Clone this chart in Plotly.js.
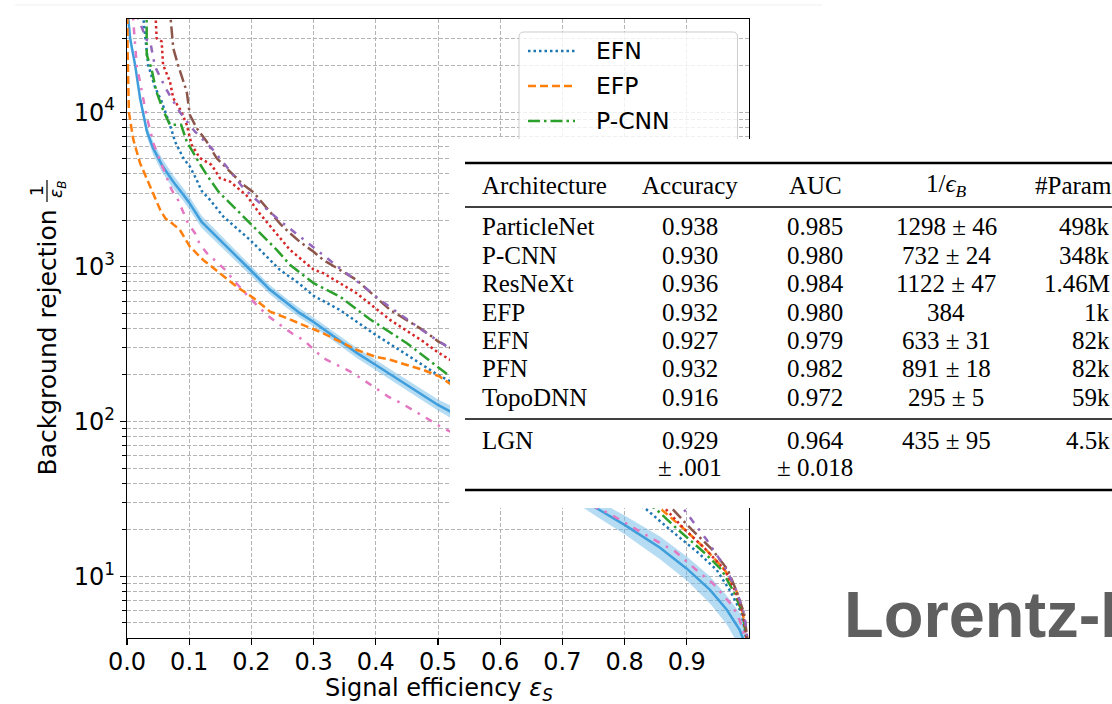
<!DOCTYPE html>
<html><head><meta charset="utf-8">
<script src="https://cdn.plot.ly/plotly-3.0.1.min.js"></script>
<style>html,body{margin:0;padding:0;background:#fff;overflow:hidden}#chart{width:1112px;height:704px}</style>
</head><body><div id="chart"></div>
<script>
// ---------------- data ----------------
const LGN_x  = [0.001,0.005,0.013,0.021,0.032,0.042,0.056,0.074,0.09,0.1,0.12,0.15,0.176,0.2,0.23,0.257,0.278,0.3,0.32,0.35,0.37,0.4,0.45,0.5,0.52,0.55,0.6,0.65,0.7,0.755,0.8,0.857,0.9,0.937,0.964,0.985,0.992,0.997];
const LGN_y  = [45000,30000,20200,12300,7500,5850,4560,3560,2950,2600,1950,1490,1167,940,710,582,502,440,385,315,277,232,172,128,116,95,70,52,38,27.5,21.5,15.3,11.2,8.2,6.1,4.5,3.8,3.2];
const LGN_hi = [48000,32000,21500,13300,8200,6450,5050,3930,3250,2860,2140,1620,1260,1010,760,622,537,470,412,338,298,250,186,139,127,104,77,58,42.5,31,24.7,18.1,13.4,10,7.5,5.8,5.0,4.1];
const LGN_lo = [42000,28000,19000,11400,6900,5300,4100,3220,2680,2360,1780,1370,1080,870,663,542,468,412,360,293,257,215,159,118,106,87,63,46.5,34,24.3,18.7,12.9,9.4,6.7,4.9,3.5,2.9,2.4];

const EFN_x = [0.024,0.0289,0.034,0.045,0.0557,0.069,0.0772,0.0905,0.101,0.112,0.12,0.1334,0.155,0.176,0.1977,0.219,0.246,0.275,0.3,0.342,0.396,0.45,0.5,0.52,0.55,0.6,0.65,0.7,0.75,0.8,0.833,0.873,0.92,0.948,0.97,0.988,0.998];
const EFN_y = [50000,31600,20200,14500,11700,8280,6460,5050,4450,3650,3100,2710,2110,1780,1496,1227,955,790,650,527,372,270,200,182,150,110,80,58,43,33,27.5,20,14,11,8,5.77,3.5];

const EFP_x = [0.0005,0.001,0.003,0.0102,0.021,0.037,0.0535,0.062,0.069,0.085,0.101,0.1225,0.1495,0.176,0.2035,0.23,0.2567,0.278,0.3,0.3156,0.35,0.369,0.4,0.423,0.45,0.476,0.503,0.52,0.55,0.6,0.65,0.7,0.75,0.8,0.857,0.897,0.93,0.961,0.98,0.99,0.998];
const EFP_y = [50000,25000,10000,6640,4680,3300,2330,2050,1963,1735,1353,1108,910,746,628,514,466,432,395,372,315,291,262,251,232,216,195,175,140,106,82,64,50,39,27.5,20,15,11,8,5.8,3.5];

const PCNN_x = [0.0315,0.0317,0.0392,0.0472,0.058,0.069,0.087,0.096,0.1147,0.128,0.1468,0.1656,0.187,0.2138,0.2407,0.262,0.3,0.342,0.39,0.45,0.503,0.52,0.55,0.6,0.65,0.7,0.75,0.8,0.849,0.886,0.93,0.956,0.975,0.99,0.998];
const PCNN_y = [50000,23400,19200,13600,10300,8280,8280,6460,4800,3935,3070,2580,2100,1650,1288,1030,785,643,460,321,218,195,165,120,88,64,47,35,27.5,20,14,11,8,5.77,3.5];

const PFN_x = [0.045,0.0477,0.0557,0.058,0.069,0.0744,0.0874,0.096,0.104,0.117,0.136,0.1495,0.1656,0.192,0.2138,0.2513,0.262,0.3,0.3156,0.369,0.423,0.476,0.5,0.52,0.55,0.6,0.65,0.7,0.75,0.8,0.865,0.897,0.93,0.961,0.978,0.99,0.998];
const PFN_y = [50000,30000,28600,20200,15800,12300,10100,8280,6150,5050,4560,3740,3560,2900,2200,1450,1288,960,910,676,454,330,280,250,210,150,108,78,56,40,27.5,20,15,11,8,5.77,3.5];

const RESNEXT_x = [0.068,0.0744,0.082,0.0874,0.096,0.101,0.112,0.128,0.144,0.1656,0.187,0.2035,0.246,0.262,0.278,0.3,0.3156,0.369,0.423,0.476,0.5,0.52,0.55,0.6,0.65,0.7,0.75,0.8,0.876,0.908,0.94,0.966,0.98,0.992,0.999];
const RESNEXT_y = [50000,25900,20200,17400,13600,9620,7880,6460,5050,4130,3390,3030,1900,1650,1450,1250,1108,824,527,390,330,300,250,180,128,90,63,44,27.5,20,15,11,8,5.77,3.5];

const PNET_x = [0.009,0.0316,0.037,0.045,0.0637,0.085,0.109,0.136,0.16,0.187,0.2138,0.245,0.278,0.3045,0.342,0.374,0.4067,0.444,0.4818,0.514,0.55,0.6,0.65,0.7,0.75,0.8,0.85,0.894,0.932,0.964,0.98,0.992,0.999];
const PNET_y = [50000,29300,29000,19700,13900,10000,7500,5850,4450,3230,2580,2000,1570,1288,980,785,612,478,372,306,250,185,135,98,70,50,35,27.5,17.2,11,8,5.77,3.5];

const TOPO_x = [0.008,0.0156,0.0316,0.0423,0.0611,0.0717,0.082,0.0905,0.098,0.1093,0.117,0.1307,0.144,0.158,0.171,0.195,0.2245,0.246,0.265,0.2835,0.3,0.3156,0.337,0.3585,0.38,0.399,0.42,0.4416,0.46,0.4818,0.5056,0.52,0.55,0.6,0.65,0.7,0.774,0.819,0.857,0.881,0.921,0.942,0.974,0.985,0.995];
const TOPO_y = [50000,20200,9400,6300,4040,3150,2710,2250,1915,1650,1400,1196,1081,955,824,643,490,422,372,337,291,257,233,211,186,165,145,131,119,105,92,86,72,55,44,35,25.6,20,16.4,14.5,10.5,9,6.4,5.2,3.8];

const xTickVals = [0,0.1,0.2,0.3,0.4,0.5,0.6,0.7,0.8,0.9];
const xTickText = ['0.0','0.1','0.2','0.3','0.4','0.5','0.6','0.7','0.8','0.9'];
const yTickVals = [10,100,1000,10000];
const yTickText = ['10<sup>1</sup>','10<sup>2</sup>','10<sup>3</sup>','10<sup>4</sup>'];
const yMinorVals = [5,6,7,8,9,20,30,40,50,60,70,80,90,200,300,400,500,600,700,800,900,2000,3000,4000,5000,6000,7000,8000,9000,20000,30000];

const legendNames = ['EFN','EFP','P-CNN'];

const tableHeader = ['Architecture','Accuracy','AUC','1/<i>ϵ</i><sub><i>B</i></sub>','#Params'];
const tableArch   = ['ParticleNet','P-CNN','ResNeXt','EFP','EFN','PFN','TopoDNN'];
const tableAcc    = ['0.938','0.930','0.936','0.932','0.927','0.932','0.916'];
const tableAUC    = ['0.985','0.980','0.984','0.980','0.979','0.982','0.972'];
const tableRej    = ['1298 ± 46','732 ± 24','1122 ± 47','384','633 ± 31','891 ± 18','295 ± 5'];
const tableParams = ['498k','348k','1.46M','1k','82k','82k','59k'];
const lgnRow      = ['LGN','0.929','0.964','435 ± 95','4.5k'];
const lgnErr      = ['± .001','± 0.018'];

// ---------------- geometry helpers (pixel -> paper) ----------------
const PL=127, PR=749, PT=19, PB=638;
const fx = p => (p-PL)/(PR-PL);
const fy = p => (PB-p)/(PB-PT);

// ---------------- traces ----------------
const DOT='2.5px,3px', DASH='8px,4px', DASHDOT='12px,4px,2.5px,4px', LOOSE='7px,7px,2.5px,7px';
const LW=2.5;
function curve(name,x,y,color,dash,width){
  return {type:'scatter',mode:'lines',name:name,x:x,y:y,line:{color:color,dash:dash,width:width},showlegend:false,hoverinfo:'skip'};
}
const traces = [
  {type:'scatter',mode:'lines',x:LGN_x,y:LGN_lo,line:{width:0,color:'rgba(0,0,0,0)'},showlegend:false,hoverinfo:'skip'},
  {type:'scatter',mode:'lines',x:LGN_x,y:LGN_hi,line:{width:0,color:'rgba(0,0,0,0)'},fill:'tonexty',fillcolor:'rgba(110,185,232,0.5)',showlegend:false,hoverinfo:'skip'},
  curve('LGN',LGN_x,LGN_y,'#3f9edb','solid',LW),
  curve('EFN',EFN_x,EFN_y,'#1f77b4',DOT,LW),
  curve('EFP',EFP_x,EFP_y,'#ff7f0e',DASH,LW),
  curve('P-CNN',PCNN_x,PCNN_y,'#2ca02c',DASHDOT,LW),
  curve('PFN',PFN_x,PFN_y,'#d62728',DOT,LW),
  curve('ResNeXt',RESNEXT_x,RESNEXT_y,'#8c564b',DASHDOT,LW),
  curve('ParticleNet',PNET_x,PNET_y,'#9467bd',LOOSE,LW),
  curve('TopoDNN',TOPO_x,TOPO_y,'#e377c2',LOOSE,LW)
];

// ---------------- shapes ----------------
const shapes = [];
shapes.push({type:'line',xref:'paper',yref:'paper',x0:fx(15),x1:fx(822),y0:fy(5),y1:fy(5),line:{color:'#efefef',width:1},layer:'above'});
// legend frame (rounded), continues under the table
(function(){
  const l=519,r=737.5,t=32,b=420,rr=5;
  const P=(x,y)=>fx(x).toFixed(5)+','+fy(y).toFixed(5);
  const path='M'+P(l+rr,t)+' L'+P(r-rr,t)+' Q'+P(r,t)+' '+P(r,t+rr)+' L'+P(r,b)+' L'+P(l,b)+' L'+P(l,t+rr)+' Q'+P(l,t)+' '+P(l+rr,t)+' Z';
  shapes.push({type:'path',xref:'paper',yref:'paper',path:path,fillcolor:'rgba(255,255,255,0.8)',line:{color:'#cccccc',width:1},layer:'above'});
})();
const legendStyles = [['#1f77b4',DOT],['#ff7f0e',DASH],['#2ca02c',DASHDOT]];
const legendY = [51,86,121];
legendStyles.forEach((s,i)=>{
  shapes.push({type:'line',xref:'paper',yref:'paper',x0:fx(528),x1:fx(575),y0:fy(legendY[i]),y1:fy(legendY[i]),line:{color:s[0],dash:s[1],width:LW},layer:'above'});
});
// table panel
shapes.push({type:'rect',xref:'paper',yref:'paper',x0:fx(450),x1:fx(1113),y0:fy(139),y1:fy(508),fillcolor:'#ffffff',line:{width:0},layer:'above'});
[[163,2.4],[207,1.3],[419,1.3],[490,2.4]].forEach(r=>{
  shapes.push({type:'line',xref:'paper',yref:'paper',x0:fx(465),x1:fx(1113),y0:fy(r[0]),y1:fy(r[0]),line:{color:'#000',width:r[1]},layer:'above'});
});
// fraction bar of the y label
shapes.push({type:'line',xref:'paper',yref:'paper',x0:fx(47),x1:fx(47),y0:fy(180),y1:fy(202),line:{color:'#000',width:1.2},layer:'above'});

// ---------------- annotations ----------------
const SANS='DejaVu Sans', SERIF='Liberation Serif, Times New Roman, serif';
function txt(text,xp,yp,opt){
  return Object.assign({xref:'paper',yref:'paper',x:fx(xp),y:fy(yp),text:text,showarrow:false,xanchor:'center',yanchor:'middle',font:{family:SANS,size:24,color:'#000'}},opt||{});
}
const ann = [];
ann.push(txt('Signal efficiency <i>ε</i><sub><i>S</i></sub>',439,689,{font:{family:SANS,size:24,color:'#000'}}));
ann.push(txt('Background rejection',47,342.5,{textangle:-90,font:{family:SANS,size:25,color:'#000'}}));
ann.push(txt('1',37,191,{textangle:-90,font:{family:SANS,size:17,color:'#000'}}));
ann.push(txt('<i>ε</i><sub><i>B</i></sub>',57,190,{textangle:-90,font:{family:SANS,size:17,color:'#000'}}));
legendNames.forEach((n,i)=>ann.push(txt(n,594,legendY[i],{xanchor:'left',font:{family:SANS,size:23.5,color:'#000'}})));

const colX = [480,690,815,946,1112];
const F = {family:SERIF,size:25,color:'#000'};
ann.push(txt(tableHeader[0],colX[0],185,{xanchor:'left',font:F}));
ann.push(txt(tableHeader[1],colX[1],185,{font:F}));
ann.push(txt(tableHeader[2],colX[2],185,{font:F}));
ann.push(txt(tableHeader[3],colX[3],185,{font:F}));
ann.push(txt(tableHeader[4],1033,185,{xanchor:'left',font:F}));
tableArch.forEach((a,i)=>{
  const y = 227 + i*28.4;
  ann.push(txt(a,colX[0],y,{xanchor:'left',font:F}));
  ann.push(txt(tableAcc[i],colX[1],y,{font:F}));
  ann.push(txt(tableAUC[i],colX[2],y,{font:F}));
  ann.push(txt(tableRej[i],colX[3],y,{font:F}));
  ann.push(txt(tableParams[i],colX[4],y,{xanchor:'right',font:F}));
});
ann.push(txt(lgnRow[0],colX[0],440,{xanchor:'left',font:F}));
ann.push(txt(lgnRow[1],colX[1],440,{font:F}));
ann.push(txt(lgnRow[2],colX[2],440,{font:F}));
ann.push(txt(lgnRow[3],colX[3],440,{font:F}));
ann.push(txt(lgnRow[4],colX[4],440,{xanchor:'right',font:F}));
ann.push(txt(lgnErr[0],colX[1],467,{font:F}));
ann.push(txt(lgnErr[1],colX[2],467,{font:F}));

ann.push(txt('<b>Lorentz-Equivariant</b>',842,614,{xanchor:'left',font:{family:'Liberation Sans, Arial, sans-serif',size:65,color:'#5f5f5f'}}));

// ---------------- layout ----------------
const grid = {showgrid:true,gridcolor:'#b4b4b4',gridwidth:1,griddash:'4px,2px'};
const layout = {
  width:1112,height:704,
  paper_bgcolor:'#ffffff',plot_bgcolor:'#ffffff',
  margin:{l:PL,r:1112-PR,t:PT,b:704-PB,pad:0},
  showlegend:false,
  font:{family:SANS,color:'#000'},
  xaxis:Object.assign({range:[0,1],tickmode:'array',tickvals:xTickVals,ticktext:xTickText,ticks:'outside',ticklen:6,tickwidth:1.2,tickcolor:'#000',
    showline:true,linecolor:'#000',linewidth:1.3,mirror:true,zeroline:false,automargin:false,ticklabelstandoff:-4,
    tickfont:{family:SANS,size:24,color:'#000'}},grid),
  yaxis:Object.assign({type:'log',range:[0.601,4.602],tickmode:'array',tickvals:yTickVals,ticktext:yTickText,ticks:'outside',ticklen:6,tickwidth:1.2,tickcolor:'#000',
    showline:true,linecolor:'#000',linewidth:1.3,mirror:true,zeroline:false,automargin:false,
    tickfont:{family:SANS,size:24,color:'#000'},
    minor:{tickmode:'array',tickvals:yMinorVals,ticks:'outside',ticklen:3.5,tickwidth:1,tickcolor:'#000',showgrid:true,gridcolor:'#b4b4b4',gridwidth:1,griddash:'4px,2px'}},grid),
  shapes:shapes,
  annotations:ann
};
Plotly.newPlot('chart',traces,layout,{staticPlot:true,displayModeBar:false});
</script></body></html>
